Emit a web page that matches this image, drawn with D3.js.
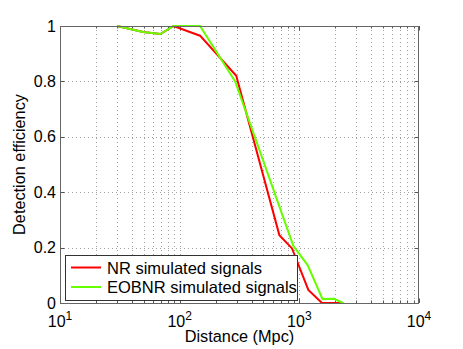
<!DOCTYPE html>
<html><head><meta charset="utf-8">
<script src="https://cdn.jsdelivr.net/npm/d3@7"></script>
<style>body{margin:0;background:#fff}svg{display:block;font-family:"Liberation Sans",Arial,sans-serif}</style>
</head><body><svg id="c" width="463" height="349"></svg>
<script>
const nrDist = [30, 49.5, 69, 89, 148, 297, 681, 869, 1189, 1546, 2327];
const nrEff  = [1.0, 0.978, 0.971, 1.0, 0.965, 0.82, 0.245, 0.197, 0.047, 0.0, 0.0];
const eobDist = [30, 49.5, 69, 89, 148, 291, 891, 1173, 1563, 1950, 2327];
const eobEff  = [1.0, 0.978, 0.971, 1.0, 1.0, 0.80, 0.206, 0.137, 0.014, 0.015, 0.0];
const xTickExp = [1, 2, 3, 4];
const yTicks = [0, 0.2, 0.4, 0.6, 0.8, 1];
const seriesNames = ["NR simulated signals", "EOBNR simulated signals"];
const seriesColors = ["#ff0000", "#66ff00"];

const svg = d3.select("#c");
const L = 60, R = 419, T = 26, B = 303;
const x = d3.scaleLog().domain([10, 10000]).range([L, R]);
const y = d3.scaleLinear().domain([0, 1]).range([B, T]);

const minor = [];
for (let e = 1; e < 4; e++) for (let k = 2; k <= 9; k++) minor.push(k * Math.pow(10, e));
const majorX = xTickExp.map(e => Math.pow(10, e));

const grid = svg.append("g").attr("stroke", "#a0a0a0").attr("stroke-width", 1).attr("stroke-dasharray", "1,3");
minor.concat(majorX.slice(1, -1)).forEach(v => {
  const px = Math.round(x(v)) + 0.5;
  grid.append("line").attr("x1", px).attr("x2", px).attr("y1", T).attr("y2", B);
});
yTicks.slice(1, -1).forEach(v => {
  const py = Math.round(y(v)) + 0.5;
  grid.append("line").attr("x1", L).attr("x2", R).attr("y1", py).attr("y2", py);
});

const tk = svg.append("g").attr("stroke", "#555").attr("stroke-width", 1);
majorX.forEach(v => {
  const px = Math.round(x(v)) + 0.5;
  tk.append("line").attr("x1", px).attr("x2", px).attr("y1", B).attr("y2", B - 4.5);
  tk.append("line").attr("x1", px).attr("x2", px).attr("y1", T).attr("y2", T + 4.5);
});
minor.forEach(v => {
  const px = Math.round(x(v)) + 0.5;
  tk.append("line").attr("x1", px).attr("x2", px).attr("y1", B).attr("y2", B - 2.5);
  tk.append("line").attr("x1", px).attr("x2", px).attr("y1", T).attr("y2", T + 2.5);
});
yTicks.forEach(v => {
  const py = Math.round(y(v)) + 0.5;
  tk.append("line").attr("x1", L).attr("x2", L + 4.5).attr("y1", py).attr("y2", py);
  tk.append("line").attr("x1", R).attr("x2", R - 4.5).attr("y1", py).attr("y2", py);
});

const line = d3.line().x(d => x(d[0])).y(d => y(d[1]));
const series = [d3.zip(nrDist, nrEff), d3.zip(eobDist, eobEff)];
series.forEach((s, i) => {
  svg.append("path").datum(s).attr("d", line).attr("fill", "none")
    .attr("stroke", seriesColors[i]).attr("stroke-width", 2).attr("stroke-linejoin", "miter");
});

svg.append("rect").attr("x", L + 0.5).attr("y", T + 0.5).attr("width", R - L - 1).attr("height", B - T)
  .attr("fill", "none").attr("stroke", "#666").attr("stroke-width", 1);

yTicks.forEach(v => {
  svg.append("text").attr("x", 56).attr("y", y(v) + 5.5).attr("text-anchor", "end")
    .attr("font-size", 16).attr("fill", "#000").text(d3.format("~g")(v));
});
xTickExp.forEach(e => {
  const t = svg.append("text").attr("x", x(Math.pow(10, e))).attr("y", 327).attr("text-anchor", "middle")
    .attr("font-size", 16).attr("fill", "#000");
  t.append("tspan").text("10");
  t.append("tspan").attr("dy", -7).attr("font-size", 12).text(e);
});
svg.append("text").attr("x", (L + R) / 2).attr("y", 342).attr("text-anchor", "middle")
  .attr("font-size", 16.3).text("Distance (Mpc)");
svg.append("text").attr("transform", `translate(25,${(T + B) / 2}) rotate(-90)`).attr("text-anchor", "middle")
  .attr("font-size", 16.3).text("Detection efficiency");

const lg = svg.append("g");
lg.append("rect").attr("x", 65.5).attr("y", 255.5).attr("width", 232).attr("height", 45)
  .attr("fill", "#fff").attr("stroke", "#333").attr("stroke-width", 1);
[267.5, 287].forEach((ly, i) => {
  lg.append("line").attr("x1", 71).attr("x2", 101).attr("y1", ly).attr("y2", ly)
    .attr("stroke", seriesColors[i]).attr("stroke-width", 2);
  lg.append("text").attr("x", 107).attr("y", ly + 6).attr("font-size", 16.5).text(seriesNames[i]);
});
</script></body></html>
